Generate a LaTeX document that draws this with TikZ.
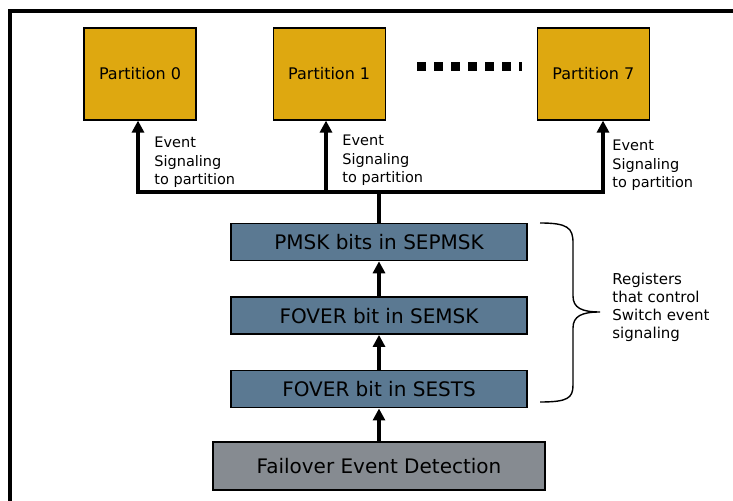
\documentclass[tikz,border=0pt]{standalone}
\usepackage{fontspec}
\setmainfont{DejaVu Sans}
\usetikzlibrary{positioning, arrows.meta}
\definecolor{partgold}{RGB}{222,168,16}
\definecolor{regblue}{RGB}{91,121,146}
\definecolor{detgray}{RGB}{134,139,145}
\begin{document}
\begin{tikzpicture}[x=0.5pt, y=-0.5pt,
	part/.style={draw, line width=0.6pt, fill=partgold, minimum width=56pt, minimum height=46pt, font=\fontsize{8}{10}\selectfont},
	reg/.style={draw, line width=0.8pt, fill=regblue, minimum width=148pt, minimum height=18.5pt, inner sep=0pt, font=\fontsize{10}{12}\selectfont},
	sig/.style={line width=1.8pt, -{Triangle[width=6pt,length=6pt]}},
	bar/.style={line width=1.8pt},
	lbl/.style={align=left, anchor=north west, inner sep=0pt, font=\fontsize{7.25}{9.25}\selectfont}]
		\useasboundingbox (0,0) rectangle (733,501);
		\draw[line width=2pt] (10,501) -- (10,11) -- (733,11);
		
		\node[part] (p0) at (140,74) {Partition 0};
		\node[part, right=38pt of p0] (p1) {Partition 1};
		\node[part, right=75.5pt of p1] (p7) {Partition 7};
		\draw[line width=4.5pt, dash pattern=on 4.5pt off 4pt] (417,67) -- (522,67);
		
		\node[reg] (pmsk) at (379,242) {PMSK bits in SEPMSK};
		\node[reg, below=17.5pt of pmsk] (semsk) {FOVER bit in SEMSK};
		\node[reg, below=17.5pt of semsk] (sests) {FOVER bit in SESTS};
		\node[reg, fill=detgray, minimum width=166pt, minimum height=24pt, below=16.5pt of sests] (fail) {Failover Event Detection};
		
		\draw[sig] (fail) -- (sests);
		\draw[sig] (sests) -- (semsk);
		\draw[sig] (semsk) -- (pmsk);
		
		\coordinate (b0) at (138,192);
		\coordinate (b1) at (326,192);
		\coordinate (b7) at (603,192);
		\draw[bar, line cap=rect] (b0) -- (b7);
		\draw[bar] (pmsk.north) -- (pmsk.north |- b0);
		\draw[sig] (b0) -- (b0 |- p0.south);
		\draw[sig] (b1) -- (b1 |- p1.south);
		\draw[sig] (b7) -- (b7 |- p7.south);
		
		\node[lbl] (e0) at (154,137) {Event\\Signaling\\to partition};
		\node[lbl] (e1) at (342,135) {Event\\Signaling\\to partition};
		\node[lbl] (e7) at (612,140) {Event\\Signaling\\to partition};
		
		\coordinate (tip) at (600,312);
		\draw[line width=0.7pt] (540,223) .. controls (568,223) and (573,228) .. (573,243) -- (573,296) .. controls (573,308) and (582,312) .. (tip) .. controls (582,312) and (573,316) .. (573,328) -- (573,385) .. controls (573,398) and (568,402) .. (540,402);
		\node[lbl, font=\fontsize{7.5}{9}\selectfont] (regs) at (612,273) {Registers\\that control\\Switch event\\signaling};
	\end{tikzpicture}
\end{document}
